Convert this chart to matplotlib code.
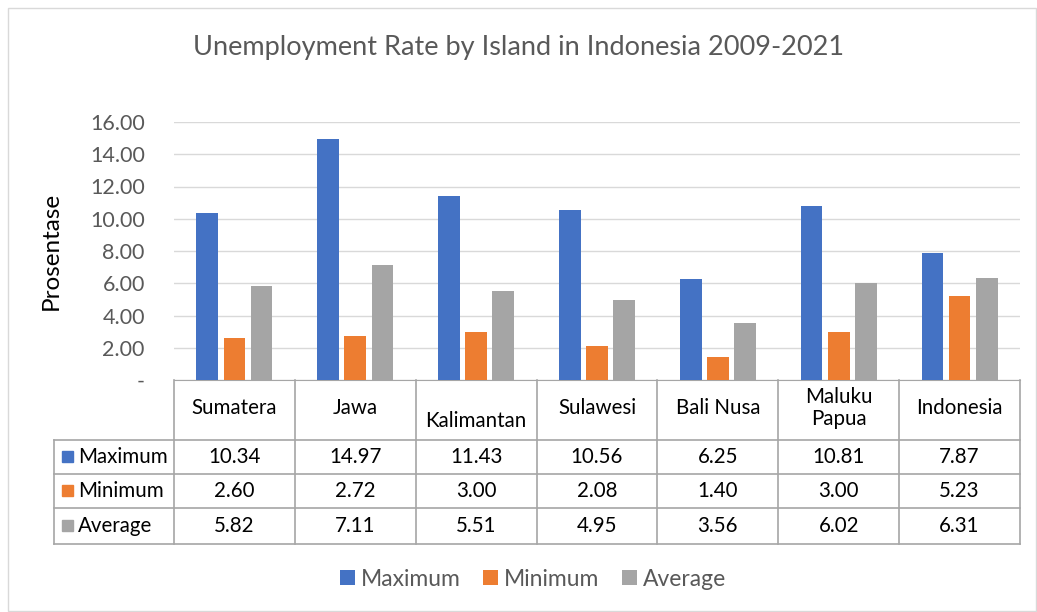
import matplotlib.pyplot as plt
import numpy as np
from matplotlib.patches import Rectangle
from matplotlib.lines import Line2D

plt.rcParams['font.family'] = ['Lato', 'DejaVu Sans']

# Data
islands = ['Sumatera', 'Jawa', 'Kalimantan', 'Sulawesi', 'Bali Nusa', 'Maluku\nPapua', 'Indonesia']
maximum = [10.34, 14.97, 11.43, 10.56, 6.25, 10.81, 7.87]
minimum = [2.60, 2.72, 3.00, 2.08, 1.40, 3.00, 5.23]
average = [5.82, 7.11, 5.51, 4.95, 3.56, 6.02, 6.31]
series_names = ['Maximum', 'Minimum', 'Average']
colors = ['#4472C4', '#ED7D31', '#A5A5A5']
yticks = [0, 2, 4, 6, 8, 10, 12, 14, 16]

W, H = 1037, 612
fig = plt.figure(figsize=(W / 100, H / 100), dpi=100)

def fx(px):
    return px / W

def fy(py):
    return 1 - py / H

# outer chart frame
fig.add_artist(Rectangle((fx(8), fy(611)), fx(1036) - fx(8), fy(8) - fy(611),
                         transform=fig.transFigure, fill=False, edgecolor='#D9D9D9', lw=1))

left, right, top, bottom = 174, 1020, 122, 380
ax = fig.add_axes([fx(left), fy(bottom), fx(right) - fx(left), fy(top) - fy(bottom)])

x = np.arange(len(islands))
offsets = [-0.225, 0, 0.225]
for vals, off, c, name in zip([maximum, minimum, average], offsets, colors, series_names):
    ax.bar(x + off, vals, width=0.18, color=c, label=name, zorder=3)

ax.set_xlim(-0.5, len(islands) - 0.5)
ax.set_ylim(0, 16)
ax.set_yticks(yticks)
ax.set_yticklabels(['-' if v == 0 else f'{v:.2f}' for v in yticks], fontsize=15.5, color='#595959')
ax.yaxis.grid(True, color='#D9D9D9', lw=1, zorder=0)
ax.set_xticks([])
ax.tick_params(axis='y', length=0, pad=21)
for s in ['top', 'right', 'left']:
    ax.spines[s].set_visible(False)
ax.spines['bottom'].set_color('#A6A6A6')
ax.set_ylabel('Prosentase', fontsize=17.5, color='black')
ax.yaxis.set_label_coords(fx(62 - left) / (fx(right) - fx(left)), 0.5)

fig.text(0.5, fy(47), 'Unemployment Rate by Island in Indonesia 2009-2021',
         ha='center', va='center', fontsize=19.5, color='#595959')

# data table
line_c = '#A6A6A6'
row_lines = [380, 440, 474, 508, 544]
tab_left = 54

def hline(x0, x1, y):
    fig.add_artist(Line2D([fx(x0), fx(x1)], [fy(y), fy(y)], transform=fig.transFigure,
                          color=line_c, lw=1.2))

def vline(xp, y0, y1):
    fig.add_artist(Line2D([fx(xp), fx(xp)], [fy(y0), fy(y1)], transform=fig.transFigure,
                          color=line_c, lw=1.2))

col_w = (right - left) / len(islands)
for y in row_lines[1:]:
    hline(tab_left, right, y)
for i in range(len(islands) + 1):
    vline(left + i * col_w, 380, 544)
vline(tab_left, 440, 544)

fs = 14.8
for i, name in enumerate(islands):
    cx = left + (i + 0.5) * col_w
    cy = 421 if name == 'Kalimantan' else 408
    fig.text(fx(cx), fy(cy), name, ha='center', va='center', fontsize=fs,
             linespacing=1.1)

for r, (name, vals, c) in enumerate(zip(series_names, [maximum, minimum, average], colors)):
    cy = (row_lines[r + 1] + row_lines[r + 2]) / 2
    fig.add_artist(Rectangle((fx(62), fy(cy + 5)), fx(11), 11 / H,
                             transform=fig.transFigure, color=c))
    fig.text(fx(78), fy(cy), name, ha='left', va='center', fontsize=fs)
    for i, v in enumerate(vals):
        fig.text(fx(left + (i + 0.5) * col_w), fy(cy), f'{v:.2f}', ha='center',
                 va='center', fontsize=fs)

# legend
fig.legend(loc='center', bbox_to_anchor=(fx(533), fy(579)), ncol=3, frameon=False,
           fontsize=16.5, labelcolor='#595959', handlelength=0.65, handleheight=0.65,
           handletextpad=0.25, columnspacing=1.0)

fig.savefig('out.png', dpi=100)
